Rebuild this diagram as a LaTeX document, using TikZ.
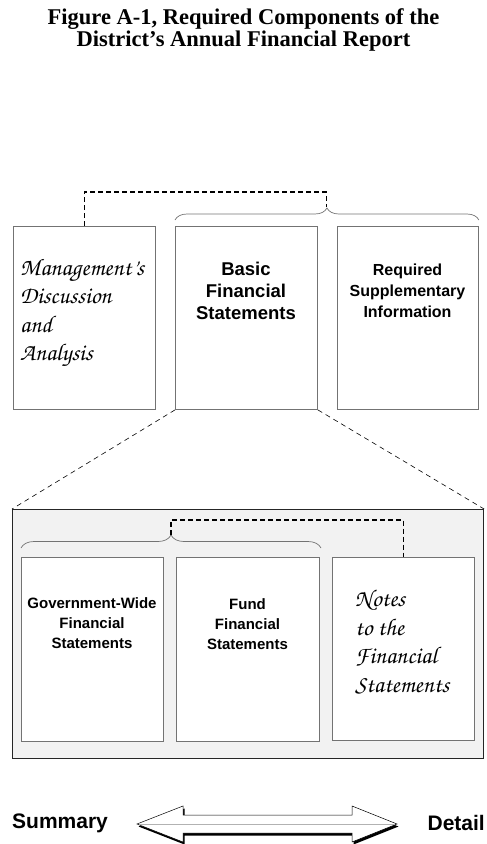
\documentclass[tikz,border=0pt]{standalone}
\usepackage[T1,TU]{fontenc}
\usepackage{fontspec}
\setmainfont{Liberation Serif}
\setsansfont{Liberation Sans}
\usetikzlibrary{positioning,decorations.pathreplacing}
\newcommand\scriptfnt{\fontencoding{T1}\fontfamily{pzc}\fontseries{mb}\fontshape{it}\selectfont}
\definecolor{boxline}{gray}{0.45}
\definecolor{framefill}{gray}{0.95}
\tikzset{
  part/.style={draw=boxline,line width=0.9pt,fill=white,anchor=north west,
    minimum width=142pt,minimum height=183pt,inner sep=0pt},
  frame/.style={draw=black!85,line width=1.1pt,fill=framefill,anchor=north west,
    minimum width=471pt,minimum height=249pt,inner sep=0pt},
  conn/.style={dashed,dash pattern=on 5pt off 3pt,line width=1.4pt},
  zoomline/.style={dash pattern=on 5pt off 4pt,line width=0.6pt},
  bracket/.style={draw=boxline,line width=0.7pt,decorate,
    decoration={brace,amplitude=12pt}},
  plain/.style={font=\sffamily\bfseries,align=center,inner sep=0pt},
  hand/.style={font=\scriptfnt,align=left,anchor=west,inner sep=0pt}
}
\begin{document}
\begin{tikzpicture}[x=1pt,y=-1pt]
\useasboundingbox (0,0) rectangle (487,844);
% title
\node[font=\fontsize{22.5}{22}\selectfont\bfseries,align=center] (title) at (243.5,30)
  {Figure A-1, Required Components of the\\District's Annual Financial Report};
% required parts
\node[part] (mda) at (13,226) {};
\node[part] (bfs) at (175,226) {};
\node[part,minimum width=141pt] (rsi) at (337,226) {};
\node[hand,font=\fontsize{24}{28.5}\scriptfnt] (mdal) at (20,313)
  {Management's\\Discussion\\and\\Analysis};
\node[plain,font=\fontsize{18.5}{22}\sffamily\bfseries] (bfsl) at (246,291)
  {Basic\\Financial\\Statements};
\node[plain,font=\fontsize{16}{21}\sffamily\bfseries] (rsil) at (407.5,291)
  {Required\\Supplementary\\Information};
\draw[bracket] ([yshift=6pt]bfs.north west) -- ([yshift=6pt]rsi.north east);
\coordinate (btip) at (326.5,207);
\draw[conn] (mda.north) -- ++(0,-34) -| (btip);
% basic statements in detail
\node[frame] (frame) at (12,509) {};
\draw[zoomline] (bfs.south west) -- (frame.north west);
\draw[zoomline] (bfs.south east) -- (frame.north east);
\node[part,minimum height=184pt] (gw) at (21,557) {};
\node[part,minimum width=143pt,minimum height=184pt] (fund) at (176,557) {};
\node[part] (notes) at (332,557) {};
\node[plain,font=\fontsize{15}{20}\sffamily\bfseries] (gwl) at (92,623)
  {Government-Wide\\Financial\\Statements};
\node[plain,font=\fontsize{15}{20}\sffamily\bfseries] (fundl) at (247.5,624)
  {Fund\\Financial\\Statements};
\node[hand,font=\fontsize{24}{28.5}\scriptfnt] (notesl) at (355,642)
  {Notes\\to the\\Financial\\Statements};
\draw[bracket,decoration={brace,amplitude=13pt}] (21,548) -- (321,548);
\coordinate (ltip) at (171,535);
\draw[conn] (ltip) -- ++(0,-15) -| (notes.north);
% scale arrow
\node[plain,font=\fontsize{21}{22}\sffamily\bfseries,anchor=west] (summ) at (12,823) {Summary};
\node[plain,font=\fontsize{21}{22}\sffamily\bfseries,anchor=east] (det) at (485,823) {Detail};
\fill[black] (138.5,826.5) -- (184.5,808.5) -- (184.5,817.5) -- (353.5,817.5) -- (353.5,808.5)
  -- (398.5,826.5) -- (353.5,844.5) -- (353.5,835.5) -- (184.5,835.5) -- (184.5,844.5) -- cycle;
\draw[fill=white,line width=0.5pt] (137,824) -- (183,806) -- (183,815) -- (352,815) -- (352,806)
  -- (397,824) -- (352,842) -- (352,833) -- (183,833) -- (183,842) -- cycle;
\draw[gray!60,line width=0.4pt] (140,824) -- (394,824);
\end{tikzpicture}
\end{document}
